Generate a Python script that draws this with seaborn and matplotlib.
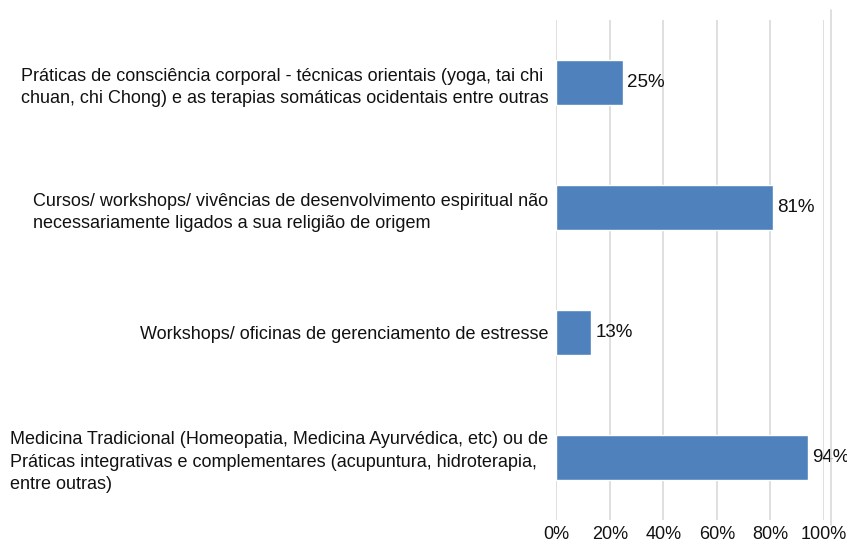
import matplotlib
matplotlib.use("Agg")
import matplotlib.pyplot as plt
from matplotlib.lines import Line2D
import seaborn as sns
import pandas as pd

# Data
categories = [
    "Práticas de consciência corporal - técnicas orientais (yoga, tai chi\nchuan, chi Chong) e as terapias somáticas ocidentais entre outras",
    "Cursos/ workshops/ vivências de desenvolvimento espiritual não\nnecessariamente ligados a sua religião de origem",
    "Workshops/ oficinas de gerenciamento de estresse",
    "Medicina Tradicional (Homeopatia, Medicina Ayurvédica, etc) ou de\nPráticas integrativas e complementares (acupuntura, hidroterapia,\nentre outras)",
]
values = [25, 81, 13, 94]
x_ticks = [0, 20, 40, 60, 80, 100]
x_tick_labels = ["0%", "20%", "40%", "60%", "80%", "100%"]

df = pd.DataFrame({"categoria": categories, "valor": values})

sns.set_style("white")
plt.rcParams["font.family"] = ["Liberation Sans", "DejaVu Sans"]

text_color = "#111111"

fig = plt.figure(figsize=(8.47, 5.44), dpi=100)
ax = fig.add_axes([0.657, 0.044, 0.3155, 0.919])

sns.barplot(data=df, x="valor", y="categoria", orient="h", color="#4F81BD",
            saturation=1, width=0.36, ax=ax, zorder=3)

# value labels
ax.bar_label(ax.containers[0], labels=[f"{v}%" for v in values],
             padding=3, fontsize=13.5, color=text_color)

ax.set_xlim(0, 100)
ax.set_ylim(3.5, -0.5)
ax.set_xticks(x_ticks)
ax.set_xticklabels(x_tick_labels, fontsize=13, color=text_color)
ax.grid(axis="x", color="#D9D9D9", linewidth=1.2, zorder=0)
ax.set_axisbelow(True)
ax.set_xlabel("")
ax.set_ylabel("")

for lbl in ax.get_yticklabels():
    lbl.set_multialignment("left")
    lbl.set_fontsize(13)
    lbl.set_color(text_color)
    lbl.set_linespacing(1.4)

ax.tick_params(axis="y", length=0, pad=6)
ax.tick_params(axis="x", length=0, pad=4)
for s in ax.spines.values():
    s.set_visible(False)

# thin frame line at the right edge of the chart area
fig.add_artist(Line2D([831 / 847, 831 / 847], [1 - 525 / 544, 1 - 10 / 544],
                      transform=fig.transFigure, color="#D9D9D9", linewidth=1.2))

fig.savefig("out.png", dpi=100)
